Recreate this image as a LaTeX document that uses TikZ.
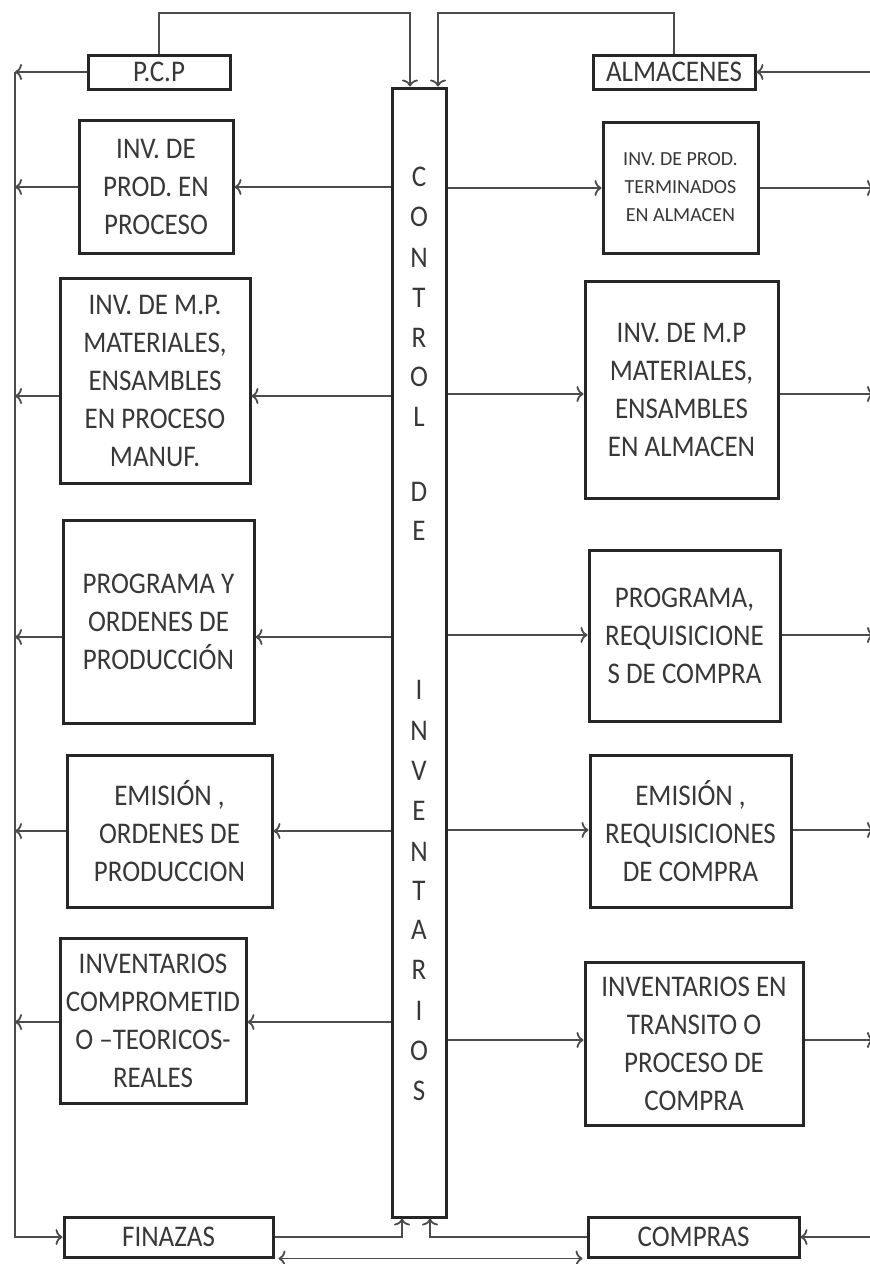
\documentclass[tikz,border=0pt]{standalone}
\usepackage{fontspec}
\setmainfont{Carlito}[FakeStretch=0.9]
\newfontfamily\termfont{Carlito}
\usetikzlibrary{arrows.meta}

\begin{document}
\begin{tikzpicture}[x=1pt, y=-1pt,
    box/.style={draw=black!85, line width=3pt, fill=white, inner sep=0pt, align=center,
        text=black!78, font=\fontsize{30}{38}\selectfont},
    link/.style={draw=black!70, line width=1.8pt},
    >={To[length=7pt, width=16pt]}]
    \useasboundingbox (0,0) rectangle (870,1264);

    % The control column
    \node[box, minimum width=54, minimum height=1129] (ctrl) at (419,652.5) {};
    \foreach \ch/\y in {C/177, O/217, N/258, T/298, R/338, O/377, L/417, D/492, E/531,
        I/690, N/731, V/771, E/811, N/852, T/891, A/930, R/970, I/1011, O/1051, S/1091}
        \node[text=black!78, font=\fontsize{30}{38}\selectfont] at (ctrl.center |- 0,\y) {\ch};

    % Top and bottom units
    \node[box, minimum width=142, minimum height=34] (pcp) at (159,72) {P.C.P};
    \node[box, minimum width=162, minimum height=34] (alm) at (674,72) {ALMACENES};
    \node[box, minimum width=209, minimum height=40] (fin) at (168.5,1237) {FINAZAS};
    \node[box, minimum width=211, minimum height=40] (com) at (693.5,1237) {COMPRAS};

    % Left boxes
    \node[box, minimum width=154, minimum height=133] (lprod) at (156,186.5) {INV. DE\\PROD. EN\\PROCESO};
    \node[box, minimum width=190, minimum height=205] (lmp) at (155,380.5) {INV. DE M.P.\\MATERIALES,\\ENSAMBLES\\EN PROCESO\\MANUF.};
    \node[box, minimum width=191, minimum height=203] (lprog) at (158.5,621.5) {PROGRAMA Y\\ORDENES DE\\PRODUCCIÓN};
    \node[box, minimum width=205, minimum height=152] (lemi) at (169.5,831) {EMISIÓN ,\\ORDENES DE\\PRODUCCION};
    \node[box, minimum width=186, minimum height=165] (linv) at (153,1020.5) {INVENTARIOS\\COMPROMETID\\O –TEORICOS-\\REALES};

    % Right boxes
    \node[box, minimum width=155, minimum height=131, font=\termfont\fontsize{20}{28}\selectfont] (rprod) at (680.5,187.5) {INV. DE PROD.\\TERMINADOS\\EN ALMACEN};
    \node[box, minimum width=193, minimum height=217] (rmp) at (681.5,389.5) {INV. DE M.P\\MATERIALES,\\ENSAMBLES\\EN ALMACEN};
    \node[box, minimum width=191, minimum height=171] (rprog) at (684.5,635.5) {PROGRAMA,\\REQUISICIONE\\S DE COMPRA};
    \node[box, minimum width=201, minimum height=152] (remi) at (690.5,831) {EMISIÓN ,\\REQUISICIONES\\DE COMPRA};
    \node[box, minimum width=218, minimum height=163] (rinv) at (694,1043.5) {INVENTARIOS EN\\TRANSITO O\\PROCESO DE\\COMPRA};

    % Helper points
    \coordinate (spine) at (15,0);
    \coordinate (redge) at (874,0);
    \coordinate (topl) at (410,13);
    \coordinate (topr) at (438,13);
    \coordinate (botl) at (402,0);
    \coordinate (botr) at (430,0);

    % Feedback into the control
    \draw[link, ->] (pcp.north) |- (topl) -- (topl |- ctrl.north);
    \draw[link, ->] (alm.north) |- (topr) -- (topr |- ctrl.north);
    \draw[link, ->] (fin.east) -| (botl |- ctrl.south);
    \draw[link, ->] (com.west) -| (botr |- ctrl.south);
    \draw[link, <->] ([xshift=4]fin.south east) -- ([xshift=-4]com.south west);

    % The left spine
    \draw[link, ->] (spine |- pcp) -- (spine |- fin) -- (fin.west);
    \draw[link, ->] (pcp.west) -- (spine |- pcp);
    \draw[link, ->] (redge |- alm) -- (alm.east);
    \draw[link, ->] (redge |- com) -- (com.east);

    % Rows on the left
    \foreach \b/\y in {lprod/187, lmp/396, lprog/637, lemi/831, linv/1022} {
        \draw[link, ->] (ctrl.west |- 0,\y) -- (\b.east |- 0,\y);
        \draw[link, ->] (\b.west |- 0,\y) -- (spine |- 0,\y);
    }

    % Rows on the right
    \foreach \b/\y in {rprod/188, rmp/394, rprog/635, remi/830, rinv/1040} {
        \draw[link, ->] (ctrl.east |- 0,\y) -- (\b.west |- 0,\y);
        \draw[link, ->] (\b.east |- 0,\y) -- (redge |- 0,\y);
    }
\end{tikzpicture}
\end{document}
